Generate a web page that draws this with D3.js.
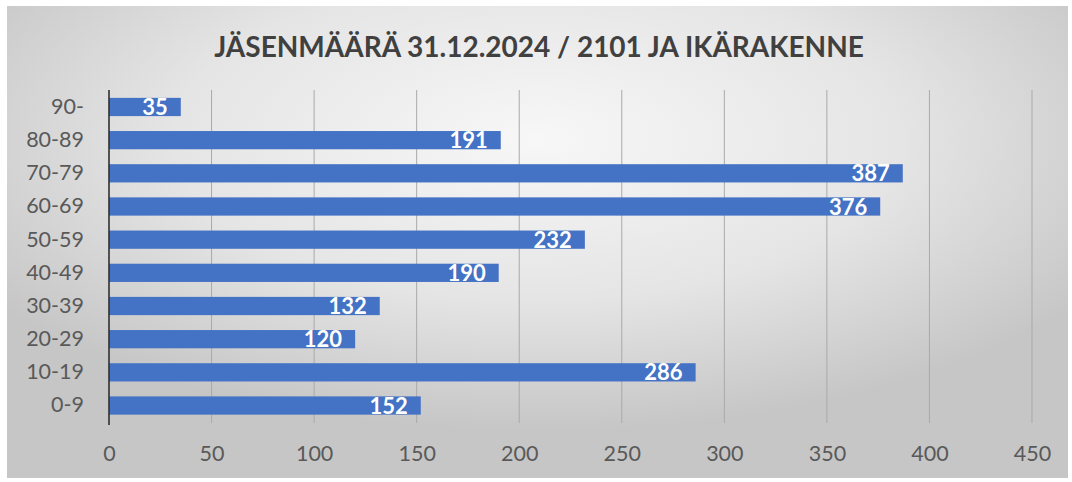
<!DOCTYPE html>
<html>
<head>
<meta charset="utf-8">
<script src="https://cdn.jsdelivr.net/npm/d3@7"></script>
<style>
  body { margin: 0; background: #fff; }
  svg { display: block; font-family: Lato, "Open Sans", sans-serif; }
</style>
</head>
<body>
<div id="chart"></div>
<script>
// age groups, top to bottom as in the picture
const ageGroups = ["90-", "80-89", "70-79", "60-69", "50-59", "40-49", "30-39", "20-29", "10-19", "0-9"];
const members = [35, 191, 387, 376, 232, 190, 132, 120, 286, 152];
const xTicks = [0, 50, 100, 150, 200, 250, 300, 350, 400, 450];
const title = "JÄSENMÄÄRÄ 31.12.2024 / 2101 JA IKÄRAKENNE";

const width = 1072, height = 482;
const margin = {top: 90, right: 40, bottom: 60, left: 109};

const svg = d3.select("#chart").append("svg")
  .attr("width", width)
  .attr("height", height);

// background panel with grey gradient
const defs = svg.append("defs");
const grad = defs.append("radialGradient")
  .attr("id", "bg")
  .attr("cx", 0.5).attr("cy", 0.28).attr("r", 0.62);
grad.append("stop").attr("offset", "0%").attr("stop-color", "#f7f7f7");
grad.append("stop").attr("offset", "55%").attr("stop-color", "#e5e5e5");
grad.append("stop").attr("offset", "100%").attr("stop-color", "#c6c6c6");

svg.append("rect")
  .attr("x", 7).attr("y", 6)
  .attr("width", 1061).attr("height", 472)
  .attr("fill", "url(#bg)");

// scales
const x = d3.scaleLinear()
  .domain([0, 450])
  .range([margin.left, 1032]);

const y = d3.scaleBand()
  .domain(ageGroups)
  .range([90.4, 422.1])
  .paddingInner(0.45)
  .paddingOuter(0.225);

// gridlines
svg.append("g")
  .selectAll("line")
  .data(xTicks.slice(1))
  .join("line")
  .attr("x1", d => x(d)).attr("x2", d => x(d))
  .attr("y1", 90).attr("y2", 423)
  .attr("stroke", "#a9a9a9")
  .attr("stroke-width", 1);

// bars
svg.append("g")
  .selectAll("rect")
  .data(members)
  .join("rect")
  .attr("x", x(0))
  .attr("y", (d, i) => y(ageGroups[i]))
  .attr("width", d => x(d) - x(0))
  .attr("height", y.bandwidth())
  .attr("fill", "#4472C4");

// value labels, inside end
svg.append("g")
  .selectAll("text")
  .data(members)
  .join("text")
  .attr("x", d => x(d) - 13)
  .attr("y", (d, i) => y(ageGroups[i]) + y.bandwidth() / 2)
  .attr("dy", "0.37em")
  .attr("text-anchor", "end")
  .attr("fill", "#ffffff")
  .style("font-size", "22px")
  .style("font-weight", "bold")
  .text(d => d);

// vertical axis line
svg.append("line")
  .attr("x1", x(0)).attr("x2", x(0))
  .attr("y1", 90).attr("y2", 425)
  .attr("stroke", "#303030")
  .attr("stroke-width", 1.6);

// category labels
const yAxis = d3.axisLeft(y).tickSize(0).tickPadding(25);
svg.append("g")
  .attr("transform", `translate(${x(0)},0)`)
  .call(yAxis)
  .call(g => g.select(".domain").remove())
  .selectAll("text")
  .attr("fill", "#595959")
  .style("font-size", "21.5px")
  .style("font-family", "Lato, sans-serif");

// value axis labels
const xAxis = d3.axisBottom(x).tickValues(xTicks).tickSize(0).tickPadding(0);
svg.append("g")
  .attr("transform", `translate(0,446)`)
  .call(xAxis)
  .call(g => g.select(".domain").remove())
  .selectAll("text")
  .attr("fill", "#595959")
  .style("font-size", "21.5px")
  .style("font-family", "Lato, sans-serif");

// title
svg.append("text")
  .attr("x", 539)
  .attr("y", 57)
  .attr("text-anchor", "middle")
  .attr("fill", "#404040")
  .style("font-size", "28px")
  .style("font-weight", "bold")
  .text(title);
</script>
</body>
</html>
